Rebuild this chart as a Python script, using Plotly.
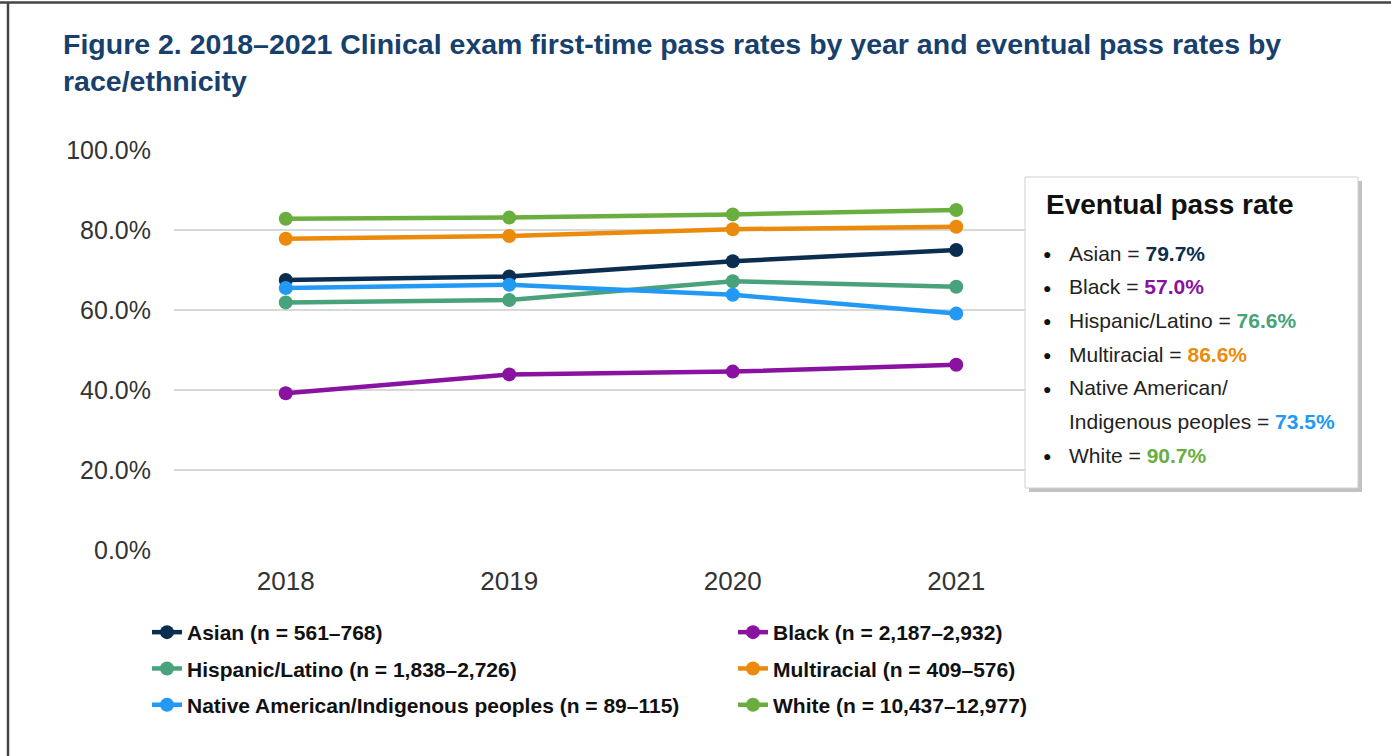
import plotly.graph_objects as go

years = ["2018", "2019", "2020", "2021"]
groups = ["Asian", "Black", "Hispanic/Latino", "Multiracial",
          "Native American/Indigenous peoples", "White"]
n_ranges = ["561–768", "2,187–2,932", "1,838–2,726", "409–576", "89–115", "10,437–12,977"]
asian = [67.5, 68.4, 72.2, 75.0]
black = [39.2, 43.9, 44.6, 46.3]
hispanic = [61.9, 62.5, 67.2, 65.8]
multiracial = [77.8, 78.5, 80.2, 80.8]
native = [65.5, 66.3, 63.8, 59.1]
white = [82.8, 83.1, 83.9, 85.0]
series = [asian, black, hispanic, multiracial, native, white]
colors = ["#0b2d50", "#8a12a0", "#48a27a", "#ec8a0c", "#2299f5", "#6aae3f"]
eventual = ["79.7%", "57.0%", "76.6%", "86.6%", "73.5%", "90.7%"]
box_labels = ["Asian", "Black", "Hispanic/Latino", "Multiracial",
              "Native American/|Indigenous peoples", "White"]
yticks = [0, 20, 40, 60, 80, 100]
title_text = ("Figure 2. 2018–2021 Clinical exam first-time pass rates by year and eventual pass rates by"
              "<br>race/ethnicity")
box_title = "Eventual pass rate"

W, H = 1391, 756
L, R, T, B = 174, 1068, 150, 550
SANS = "Liberation Sans, Arial, sans-serif"

def px(x):
    return (x - L) / (R - L)

def py(y):
    return (B - y) / (B - T)

fig = go.Figure()
legend_for = ["legend", "legend2", "legend", "legend2", "legend", "legend2"]
for i, (g, n, s, c) in enumerate(zip(groups, n_ranges, series, colors)):
    fig.add_trace(go.Scatter(
        x=years, y=s, mode="lines+markers", name=f"{g} (n = {n})",
        line=dict(color=c, width=4.5), marker=dict(color=c, size=14),
        legend=legend_for[i], legendgroup=f"g{i}",
    ))

annotations = [dict(
    text=f"<b>{title_text}</b>", xref="paper", yref="paper", x=px(61), y=py(63),
    xanchor="left", yanchor="middle", align="left", showarrow=False,
    font=dict(family=SANS, size=28.5, color="#17406d"),
)]

annotations.append(dict(
    text=f"<b>{box_title}</b>", xref="paper", yref="paper",
    x=px(1044), y=py(204), xanchor="left", yanchor="middle", showarrow=False,
    font=dict(family=SANS, size=28, color="#111111"),
))
yy = 253
step = 33.7
for lab, val, c in zip(box_labels, eventual, colors):
    parts = lab.split("|")
    annotations.append(dict(
        text="●", xref="paper", yref="paper", x=px(1047), y=py(yy + 1), xanchor="center",
        yanchor="middle", showarrow=False, font=dict(family=SANS, size=14, color="#111111"),
    ))
    for j, p in enumerate(parts):
        txt = p
        if j == len(parts) - 1:
            txt = f"{p} = <b><span style='color:{c}'>{val}</span></b>"
        annotations.append(dict(
            text=txt, xref="paper", yref="paper", x=px(1067), y=py(yy), xanchor="left",
            yanchor="middle", align="left", showarrow=False,
            font=dict(family=SANS, size=21, color="#222222"),
        ))
        yy += step

shapes = [
    dict(type="rect", xref="paper", yref="paper", x0=px(1029), x1=px(1362), y0=py(492), y1=py(181),
         line=dict(width=0), fillcolor="rgba(120,120,120,0.45)", layer="above"),
    dict(type="rect", xref="paper", yref="paper", x0=px(1025), x1=px(1358), y0=py(488), y1=py(177),
         line=dict(color="#d0d0d0", width=1), fillcolor="white", layer="above"),
    dict(type="line", xref="paper", yref="paper", x0=px(0), x1=px(1391), y0=py(2.5), y1=py(2.5),
         line=dict(color="#444444", width=2.5)),
    dict(type="line", xref="paper", yref="paper", x0=px(8), x1=px(8), y0=py(2), y1=py(756),
         line=dict(color="#444444", width=2.5)),
]

legend_common = dict(orientation="v", yanchor="top", xanchor="left", tracegroupgap=6,
                     bgcolor="rgba(0,0,0,0)",
                     font=dict(family=SANS, size=21, color="#111111", weight="bold"))

fig.update_layout(
    width=W, height=H,
    margin=dict(l=L, r=W - R, t=T, b=H - B, autoexpand=False),
    paper_bgcolor="white", plot_bgcolor="white",
    annotations=annotations, shapes=shapes,
    xaxis=dict(type="category", range=[-0.5, 3.5], showgrid=False, showline=False,
               ticks="", ticklabelstandoff=13,
               tickfont=dict(family=SANS, size=26, color="#333333")),
    yaxis=dict(range=[0, 100], tickvals=yticks, ticktext=[f"{v:.1f}%" for v in yticks],
               showgrid=True, gridcolor="#d9d9d9", gridwidth=2, zeroline=False, showline=False,
               ticks="", ticklabelstandoff=22,
               tickfont=dict(family=SANS, size=25, color="#333333")),
    legend=dict(x=px(147), y=py(612), **legend_common),
    legend2=dict(x=px(733), y=py(612), **legend_common),
    showlegend=True,
)

fig.write_html("out.html", config={"displayModeBar": False},
               post_script="document.body.style.margin='0px';document.body.style.overflow='hidden';")
